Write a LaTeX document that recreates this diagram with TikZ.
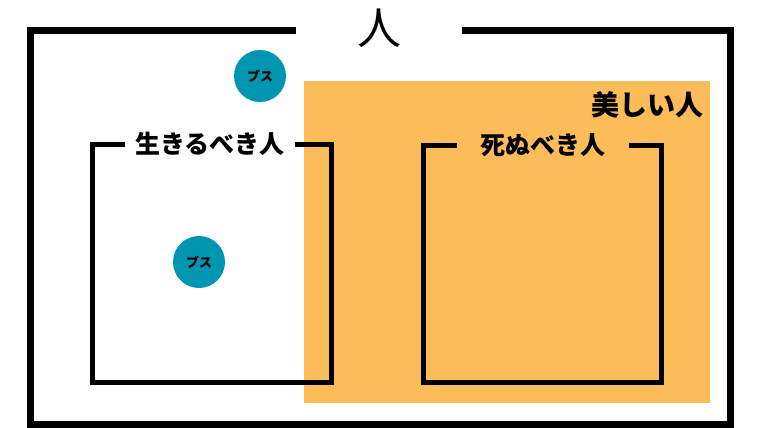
\documentclass[tikz,border=0pt]{standalone}
\usepackage{fontspec}
\setmainfont{Noto Sans CJK JP}
\definecolor{bijin}{RGB}{253,188,90}
\definecolor{busu}{RGB}{0,150,178}
\begin{document}
\begin{tikzpicture}[x=1pt, y=-1pt, heading/.style = {inner ysep=0pt, font=\bfseries\fontsize{25}{25}\selectfont},
                    waku/.style = {draw, line width=5pt}, blob/.style = {circle, fill=busu, minimum size=52pt, inner sep=0pt,
                    font=\bfseries\fontsize{13}{13}\selectfont}]
        \useasboundingbox (0,0) rectangle (760,428);
        \fill[bijin] (304,81) rectangle (710,403);
        \node[heading, font=\fontsize{44}{44}\selectfont\mdseries, inner xsep=61pt] (hito) at (379,28) {人};
        \draw[waku, line width=7pt] ([yshift=-3pt]hito.west) -- (30,31) -- (30,424) -- (730,424) -- (730,31) -- ([yshift=-3pt]hito.east);
        \node[heading, inner xsep=10pt] (ikiru) at (210,144) {生きるべき人};
        \draw[waku] (ikiru.west) -- (92,144) -- (92,382) -- (331,382) -- (331,144) -- (ikiru.east);
        \node[heading, inner xsep=23pt] (shinu) at (543,145) {死ぬべき人};
        \draw[waku] (shinu.west) -- (423,145) -- (423,382) -- (661,382) -- (661,145) -- (shinu.east);
        \node[heading, font=\bfseries\fontsize{28}{28}\selectfont, anchor=east, inner sep=0pt] (utsukushii) at (704,105) {美しい人};
        \node[blob] (busu1) at (260,76) {ブス};
        \node[blob] (busu2) at (199,262) {ブス};
    \end{tikzpicture}
\end{document}
